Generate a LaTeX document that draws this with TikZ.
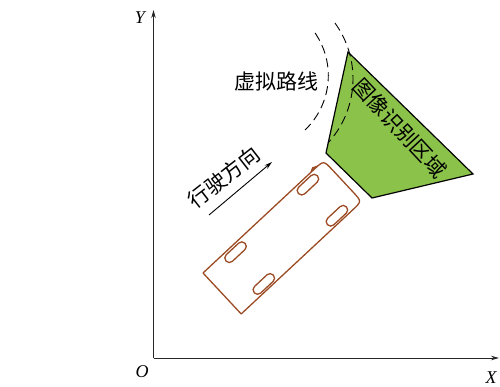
\documentclass[tikz,border=0pt]{standalone}
\usepackage{fontspec}
\setmainfont{Liberation Serif}
\newfontfamily\cjk{Noto Sans CJK SC}
\usetikzlibrary{arrows.meta}
\definecolor{zonegreen}{RGB}{139,195,74}
\definecolor{carbrown}{RGB}{155,75,35}
\begin{document}
\begin{tikzpicture}[x=1pt,y=-1pt,
  axis/.style={line width=0.9pt, draw=black!85, -{Stealth[length=8pt,width=4.5pt]}},
  axislabel/.style={font=\fontsize{18}{18}\selectfont\itshape, inner sep=0pt},
  cjklabel/.style={font=\cjk\fontsize{21}{21}\selectfont, inner sep=0pt},
  route/.style={dash pattern=on 9pt off 5pt, line width=0.9pt},
  zone/.style={fill=zonegreen, draw=black, line width=1.2pt, line join=miter},
  body/.style={draw=carbrown, line width=1.3pt, line join=round},
  wheel/.style={draw=carbrown, line width=1.3pt, rounded corners=4.4pt},
  heading/.style={line width=0.9pt, -{Stealth[length=8pt,width=4.5pt]}}]
\useasboundingbox (0,0) rectangle (500,387);

% axes
\coordinate (O) at (153.5,358);
\coordinate (Xend) at (499,358);
\coordinate (Yend) at (153.5,10);
\draw[axis] (O) -- (Xend);
\draw[axis] (O) -- (Yend);
\node[axislabel] (ylab) at (140,18) {Y};
\node[axislabel] (olab) at (142,372) {O};
\node[axislabel] (xlab) at (491,378) {X};

% image recognition zone
\coordinate (z1) at (348,52);
\coordinate (z2) at (473,174);
\coordinate (z3) at (372,198);
\coordinate (z4) at (326,153);
\draw[zone] (z1) -- (z2) -- (z3) -- (z4) -- cycle;

% virtual route (two dashed arcs)
\draw[route] plot[domain=-35.9:42.6, samples=60, smooth]
  ({258+95*cos(\x)},{78.7+95*sin(\x)});
\draw[route] plot[domain=-34.6:46.4, samples=60, smooth]
  ({253.2+75.1*cos(\x)},{75.6+75.1*sin(\x)});

\node[cjklabel] (routelab) at (276,81) {虚拟路线};
\node[cjklabel, rotate=-47] (zonelab) at (400,128) {图像识别区域};

% vehicle, drawn in its own frame (u along the body, v across it)
\begin{scope}[shift={(203,273)}, x={(0.731pt,0.682pt)}, y={(0.682pt,-0.731pt)}]
  \draw[body] (0,0) -- (152,0) .. controls (165,0) .. (165,13) -- (165,43)
    .. controls (165,56) .. (152,56) -- (0,56) -- cycle;
  \fill[carbrown] (146,0) -- (152,-2.8) -- (158,0) -- cycle;
  \draw[wheel] (25,2.5) -- (51,2.5) -- (51,11.5) -- (25,11.5) -- cycle;
  \draw[wheel] (124,2.5) -- (150,2.5) -- (150,11.5) -- (124,11.5) -- cycle;
  \draw[wheel] (24,45) -- (50,45) -- (50,54) -- (24,54) -- cycle;
  \draw[wheel] (124,45) -- (150,45) -- (150,54) -- (124,54) -- cycle;
\end{scope}

% driving direction
\coordinate (hs) at (209,215);
\coordinate (he) at (272,162);
\draw[heading] (hs) -- (he);
\node[cjklabel, rotate=38] (headlab) at (224,177) {行驶方向};
\end{tikzpicture}
\end{document}
